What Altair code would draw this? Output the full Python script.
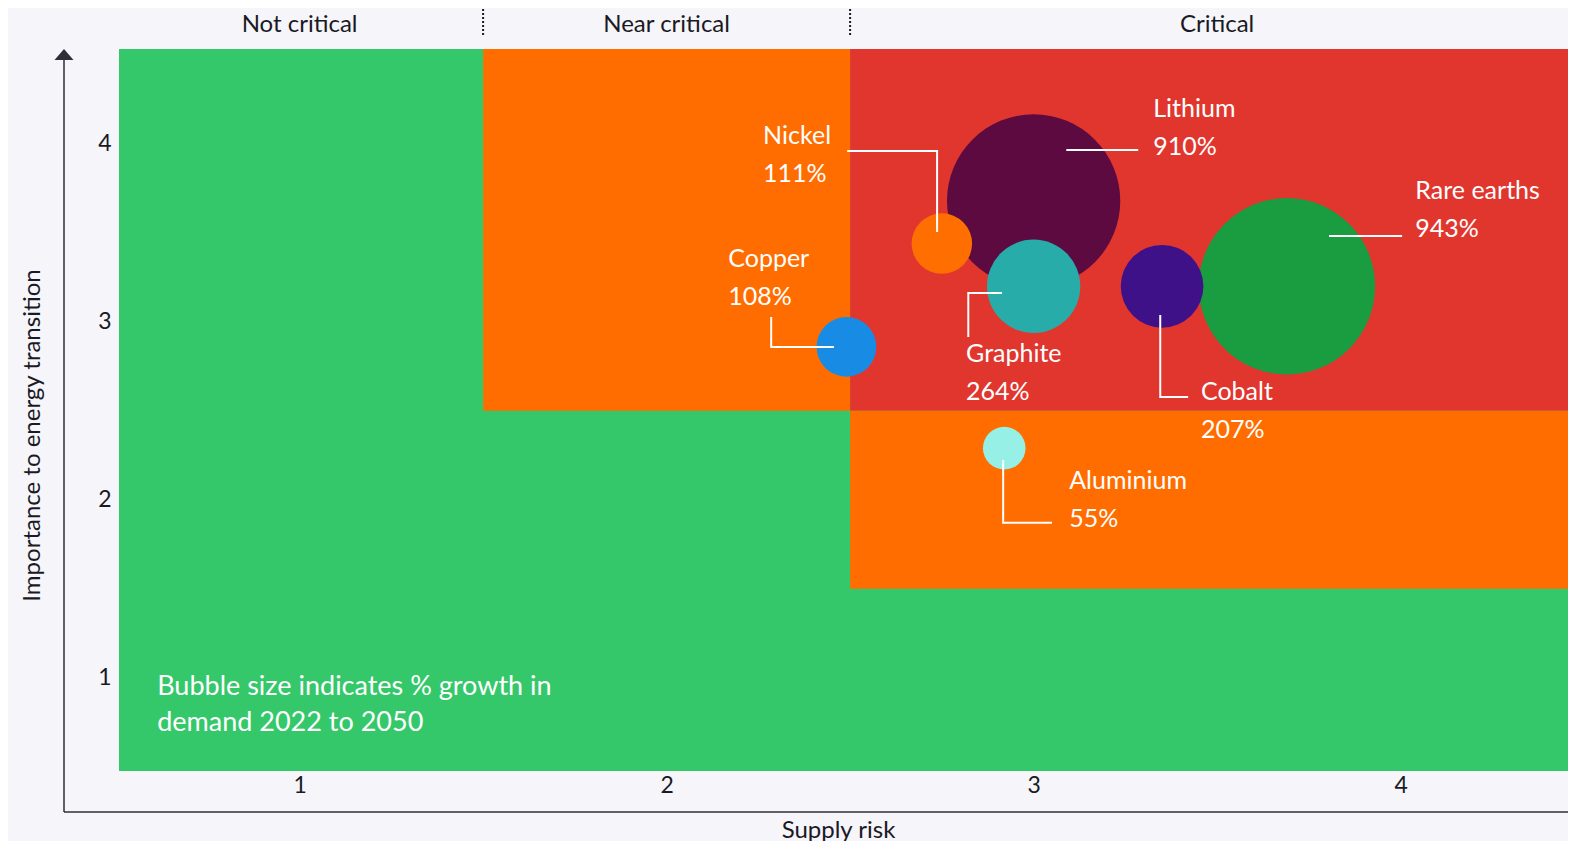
import altair as alt
import pandas as pd

# ---- data ----
minerals = ["Lithium", "Rare earths", "Graphite", "Cobalt", "Nickel", "Copper", "Aluminium"]
supply_risk = [3.0, 3.69, 3.0, 3.35, 2.75, 2.49, 2.92]
importance = [3.68, 3.2, 3.2, 3.2, 3.44, 2.86, 2.29]
growth_pct = [910, 943, 264, 207, 111, 108, 55]
bubble_colors = ["#5C0A40", "#1A9C40", "#27ACAA", "#3E1188", "#FF6E00", "#188CE5", "#96F0E5"]

label_x = [3.326, 4.04, 2.816, 3.456, 2.263, 2.168, 3.097]
label_y = [4.152, 3.691, 2.775, 2.561, 4.0, 3.309, 2.061]

leader_x = [
    [3.089, 3.285],
    [3.805, 4.004],
    [2.914, 2.822, 2.822],
    [3.345, 3.345, 3.421],
    [2.492, 2.737, 2.737],
    [2.285, 2.285, 2.456],
    [2.917, 2.917, 3.05],
]
leader_y = [
    [3.966, 3.966],
    [3.483, 3.483],
    [3.162, 3.162, 2.915],
    [3.039, 2.578, 2.578],
    [3.961, 3.961, 3.505],
    [3.028, 2.859, 2.859],
    [2.224, 1.87, 1.87],
]

zone_x1 = [0.5, 1.5, 2.5, 2.5]
zone_x2 = [4.5, 2.5, 4.5, 4.5]
zone_y1 = [0.4, 2.5, 2.5, 1.5]
zone_y2 = [4.6, 4.6, 4.6, 2.5]
zone_colors = ["#35C86B", "#FF6D00", "#E1362E", "#FF6D00"]

category_names = ["Not critical", "Near critical", "Critical"]
category_x = [1.0, 2.0, 3.5]
separator_x = [1.5, 2.5]

note_text = ["Bubble size indicates % growth in", "demand 2022 to 2050"]
note_x = [0.612, 0.612]
note_y = [0.903, 0.700]

tick_values = [1, 2, 3, 4]

FONT = "Lato"
DARK = "#1A1A24"
AXIS = "#2E2E38"

# ---- tables ----
bubbles = pd.DataFrame({
    "mineral": minerals, "risk": supply_risk, "importance": importance,
    "growth": growth_pct, "color": bubble_colors, "draw": list(range(len(minerals))),
    "lx": label_x, "ly": label_y,
    "pct": [f"{g}%" for g in growth_pct],
})

rows = []
for name, xs, ys in zip(minerals, leader_x, leader_y):
    for i, (a, b) in enumerate(zip(xs, ys)):
        rows.append({"mineral": name, "x": a, "y": b, "seq": i})
leaders = pd.DataFrame(rows)

zones = pd.DataFrame({"x1": zone_x1, "x2": zone_x2, "y1": zone_y1, "y2": zone_y2, "color": zone_colors})
cats = pd.DataFrame({"name": category_names, "x": category_x})
seps = pd.DataFrame({"x": separator_x})
notes = pd.DataFrame({"text": note_text, "x": note_x, "y": note_y})
one = pd.DataFrame({"k": [0]})

xscale = alt.Scale(domain=[0.508, 4.456], nice=False, zero=False)
yscale = alt.Scale(domain=[0.475, 4.534], nice=False, zero=False)

xaxis = alt.Axis(values=tick_values, format="d", domain=False, ticks=False, grid=False,
                 labelFont=FONT, labelFontSize=23, labelColor=DARK, labelPadding=3,
                 title="Supply risk", titleFont=FONT, titleFontSize=24, titleFontWeight="normal",
                 titleColor=DARK, titleX=719, titleY=66, titleAnchor="middle", titleAlign="center",
                 titleBaseline="alphabetic")
yaxis = alt.Axis(values=tick_values, format="d", domain=False, ticks=False, grid=False,
                 labelFont=FONT, labelFontSize=23, labelColor=DARK, labelPadding=8,
                 title="Importance to energy transition", titleFont=FONT, titleFontSize=24,
                 titleFontWeight="normal", titleColor=DARK, titleX=-80, titleY=386,
                 titleAngle=270, titleAlign="center", titleBaseline="alphabetic")

zone_layer = alt.Chart(zones).mark_rect(clip=True).encode(
    x=alt.X("x1:Q", scale=xscale, axis=xaxis),
    x2="x2:Q",
    y=alt.Y("y1:Q", scale=yscale, axis=yaxis),
    y2="y2:Q",
    color=alt.Color("color:N", scale=None),
)

sep_layer = alt.Chart(seps).mark_rule(color=DARK, strokeDash=[2, 2], strokeWidth=2).encode(
    x=alt.X("x:Q", scale=xscale), y=alt.value(-44), y2=alt.value(-13)
)

cat_layer = alt.Chart(cats).mark_text(font=FONT, fontSize=24, color=DARK, align="center",
                                      baseline="alphabetic").encode(
    x=alt.X("x:Q", scale=xscale), y=alt.value(-17), text="name:N"
)

bubble_layer = alt.Chart(bubbles).mark_circle(opacity=1).encode(
    x=alt.X("risk:Q", scale=xscale),
    y=alt.Y("importance:Q", scale=yscale),
    size=alt.Size("growth:Q", scale=alt.Scale(domain=[0, 1000], range=[0, 33000]), legend=None),
    color=alt.Color("color:N", scale=None),
    order=alt.Order("draw:Q"),
)

leader_layer = alt.Chart(leaders).mark_line(color="white", strokeWidth=2).encode(
    x=alt.X("x:Q", scale=xscale),
    y=alt.Y("y:Q", scale=yscale),
    detail="mineral:N",
    order="seq:Q",
)

name_layer = alt.Chart(bubbles).mark_text(font=FONT, fontSize=25, color="white", align="left",
                                          baseline="alphabetic").encode(
    x=alt.X("lx:Q", scale=xscale), y=alt.Y("ly:Q", scale=yscale), text="mineral:N"
)
pct_layer = alt.Chart(bubbles).mark_text(font=FONT, fontSize=25, color="white", align="left",
                                         baseline="alphabetic", dy=38).encode(
    x=alt.X("lx:Q", scale=xscale), y=alt.Y("ly:Q", scale=yscale), text="pct:N"
)

note_layer = alt.Chart(notes).mark_text(font=FONT, fontSize=27, color="white", align="left",
                                        baseline="alphabetic").encode(
    x=alt.X("x:Q", scale=xscale), y=alt.Y("y:Q", scale=yscale), text="text:N"
)

yline = alt.Chart(one).mark_rule(color=AXIS, strokeWidth=1.5).encode(
    x=alt.value(-55), y=alt.value(5), y2=alt.value(763)
)
xline = alt.Chart(one).mark_rule(color=AXIS, strokeWidth=1.5).encode(
    x=alt.value(-55), x2=alt.value(1449), y=alt.value(763)
)
arrow = alt.Chart(one).mark_point(shape="M-1,0.58L1,0.58L0,-0.58Z", filled=True, size=361,
                                  color=AXIS, opacity=1, strokeWidth=0).encode(
    x=alt.value(-55), y=alt.value(5.5)
)

chart = alt.layer(
    zone_layer, sep_layer, cat_layer, bubble_layer, leader_layer,
    name_layer, pct_layer, note_layer, yline, xline, arrow,
).properties(
    width=1449, height=722,
    autosize=alt.AutoSizeParams(type="none"),
    padding={"left": 111, "top": 41, "right": 0, "bottom": 70},
    background="#F5F5FA",
).configure_view(stroke=None)

chart.save("out.html", embed_options={"renderer": "svg", "actions": False})
